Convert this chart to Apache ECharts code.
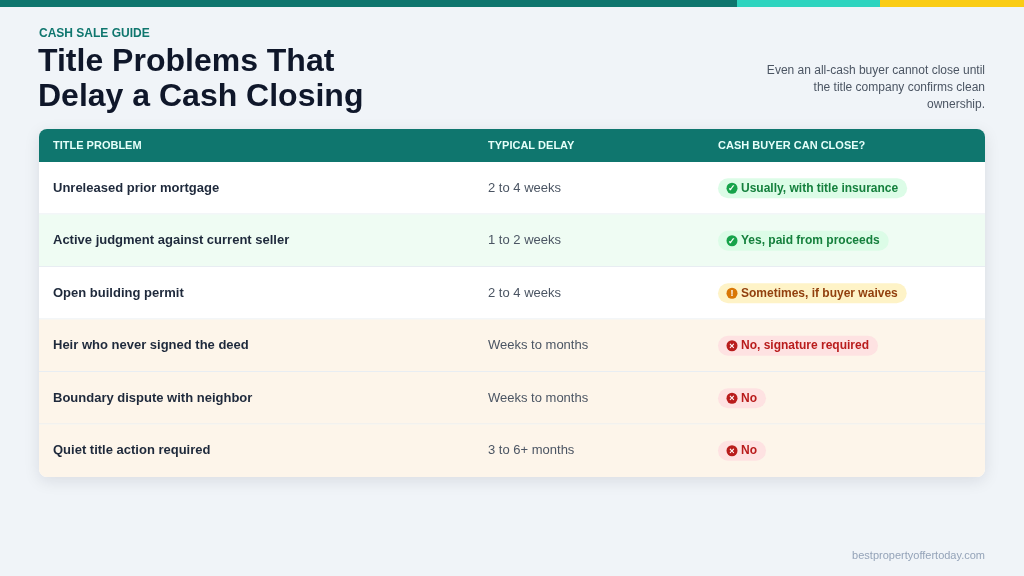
<!DOCTYPE html><html><head><meta charset="utf-8">
<script src="https://cdn.jsdelivr.net/npm/echarts@6/dist/echarts.min.js"></script>
<style>html,body{margin:0;background:#f0f4f8}#c{width:1024px;height:576px}</style></head><body><div id="c"></div>
<script>
const columns = ["TITLE PROBLEM", "TYPICAL DELAY", "CASH BUYER CAN CLOSE?"];
const problems = ["Unreleased prior mortgage","Active judgment against current seller","Open building permit","Heir who never signed the deed","Boundary dispute with neighbor","Quiet title action required"];
const delays = ["2 to 4 weeks","1 to 2 weeks","2 to 4 weeks","Weeks to months","Weeks to months","3 to 6+ months"];
const answers = ["Usually, with title insurance","Yes, paid from proceeds","Sometimes, if buyer waives","No, signature required","No","No"];
const status = ["yes","yes","maybe","no","no","no"];
const rowTone = ["white","green","white","cream","cream","cream"];

const chart = echarts.init(document.getElementById('c'));
const F = 'Liberation Sans, Arial, sans-serif';
const tones = {white:'#ffffff', green:'#effcf3', cream:'#fdf5ea'};
const badge = {
  yes:{bg:'#dcfce7', fg:'#15803d', ic:'#16a34a', g:'✓'},
  maybe:{bg:'#fef3c7', fg:'#92400e', ic:'#d97706', g:'!'},
  no:{bg:'#fee2e2', fg:'#b91c1c', ic:'#b91c1c', g:'×'}
};
const X0=39, X1=985, HT=129, HB=162, RH=52.5;
const colX=[53,488,718];
const g=[];
// top strip
g.push({type:'rect',shape:{x:0,y:0,width:737,height:7},style:{fill:'#0f766e'}});
g.push({type:'rect',shape:{x:737,y:0,width:143,height:7},style:{fill:'#2dd4bf'}});
g.push({type:'rect',shape:{x:880,y:0,width:144,height:7},style:{fill:'#facc15'}});
g.push({type:'text',x:39,y:28,style:{text:'CASH SALE GUIDE',font:'bold 12px '+F,fill:'#0f766e',letterSpacing:1.5}});
g.push({type:'text',x:38,y:45,style:{text:'Title Problems That\nDelay a Cash Closing',font:'bold 32px '+F,fill:'#0f172a',lineHeight:35,letterSpacing:-1.2}});
g.push({type:'text',x:985,y:62,style:{text:'Even an all-cash buyer cannot close until\nthe title company confirms clean\nownership.',font:'12px '+F,fill:'#4b5563',align:'right',lineHeight:17}});
// table card
const N=problems.length;
g.push({type:'rect',shape:{x:X0,y:HT,width:X1-X0,height:HB-HT+N*RH,r:8},style:{fill:'#fff',shadowBlur:16,shadowColor:'rgba(15,23,42,0.10)',shadowOffsetY:4}});
g.push({type:'rect',shape:{x:X0,y:HT,width:X1-X0,height:HB-HT,r:[8,8,0,0]},style:{fill:'#0f766e'}});
columns.forEach((c,i)=>g.push({type:'text',x:colX[i],y:(HT+HB)/2,style:{text:c,font:'bold 11px '+F,fill:'#e6fffa',letterSpacing:1,verticalAlign:'middle'}}));
for(let i=0;i<N;i++){
  const y=HB+i*RH, cy=y+RH/2, last=i===N-1;
  g.push({type:'rect',shape:{x:X0,y:y,width:X1-X0,height:RH,r:last?[0,0,8,8]:0},style:{fill:tones[rowTone[i]]}});
  if(!last) g.push({type:'rect',shape:{x:X0,y:y+RH-1,width:X1-X0,height:1},style:{fill:'#e8edf2'}});
  g.push({type:'text',x:colX[0],y:cy,style:{text:problems[i],font:'bold 13px '+F,fill:'#1e293b',verticalAlign:'middle'}});
  g.push({type:'text',x:colX[1],y:cy,style:{text:delays[i],font:'13px '+F,fill:'#4b5563',verticalAlign:'middle'}});
  const b=badge[status[i]];
  g.push({type:'text',x:colX[2],y:cy,z:5,style:{text:answers[i],font:'bold 12px '+F,fill:b.fg,verticalAlign:'middle',backgroundColor:b.bg,padding:[4,9,4,23],borderRadius:11}});
  g.push({type:'circle',z:6,shape:{cx:colX[2]+14,cy:cy,r:5.5},style:{fill:b.ic}});
  g.push({type:'text',z:7,x:colX[2]+14,y:cy+0.5,style:{text:b.g,font:'bold 9px '+F,fill:'#fff',align:'center',verticalAlign:'middle'}});
}
g.push({type:'text',x:985,y:556,style:{text:'bestpropertyoffertoday.com',font:'11px '+F,fill:'#94a3b8',align:'right',verticalAlign:'middle'}});
chart.setOption({backgroundColor:'#f0f4f8',graphic:{elements:g}});
</script></body></html>
